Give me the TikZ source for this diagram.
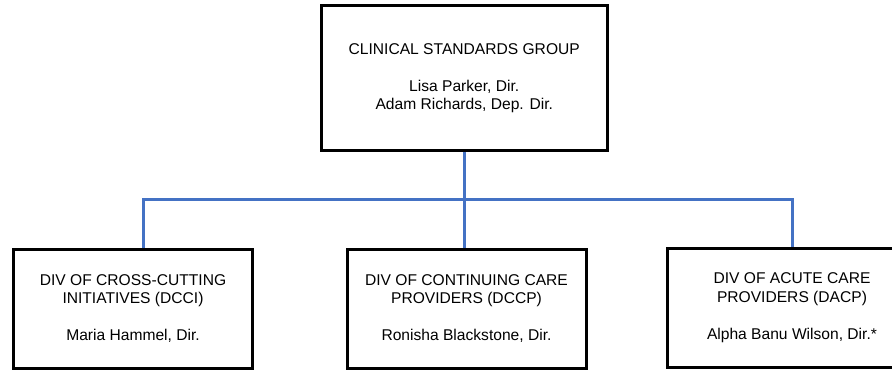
\documentclass[tikz,border=0pt]{standalone}
\usepackage{fontspec}
\setmainfont{Liberation Sans}
\definecolor{connblue}{HTML}{4472C4}
\begin{document}
\begin{tikzpicture}[x=1pt,y=-1pt,
  orgbox/.style={draw=black, line width=3pt, fill=white, align=center, inner sep=0pt,
    font=\fontsize{15.6}{18.5}\selectfont},
  conn/.style={draw=connblue, line width=3pt}]
\clip (0,0) rectangle (892,370);
\fill[white] (0,0) rectangle (892,370);
\node[orgbox, minimum width=286.5pt, minimum height=145pt] (csg) at (464.25,78)
  {CLINICAL STANDARDS GROUP\\[18.5pt]Lisa Parker, Dir.\\Adam Richards, Dep. Dir.};
\node[orgbox, minimum width=239pt, minimum height=119pt] (dcci) at (133,308.5)
  {DIV OF CROSS-CUTTING\\INITIATIVES (DCCI)\\[18.5pt]Maria Hammel, Dir.};
\node[orgbox, minimum width=239pt, minimum height=119pt] (dccp) at (466.5,308.5)
  {DIV OF CONTINUING CARE\\PROVIDERS (DCCP)\\[18.5pt]Ronisha Blackstone, Dir.};
\node[orgbox, minimum width=250pt, minimum height=119pt] (dacp) at (792,307.5)
  {DIV OF ACUTE CARE\\PROVIDERS (DACP)\\[18.5pt]Alpha Banu Wilson, Dir.*};
\coordinate (bus) at (464,199);
\coordinate (busl) at (143,199);
\draw[conn] (csg.south -| bus) -- (bus);
\draw[conn] (busl |- dcci.north) -- (busl) -- (bus -| dacp.north) -- (dacp.north);
\draw[conn] (bus) -- (bus |- dccp.north);
\end{tikzpicture}
\end{document}
